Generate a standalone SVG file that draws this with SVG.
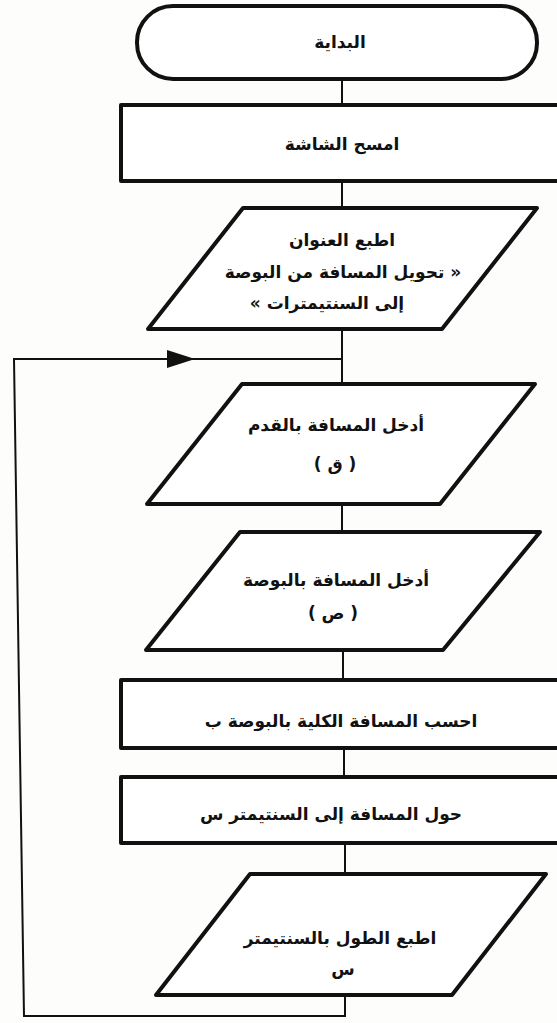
<svg xmlns="http://www.w3.org/2000/svg" width="557" height="1023" viewBox="0 0 557 1023">
<defs>
<style>
.shape{fill:#ffffff;stroke:#111111;stroke-width:4;stroke-linejoin:round}
.conn{fill:none;stroke:#111111;stroke-width:2}
.t{font-family:"DejaVu Sans","Noto Sans",sans-serif;font-size:17px;font-weight:bold;fill:#111111;text-anchor:middle;direction:rtl}
</style>
</defs>
<rect x="0" y="0" width="557" height="1023" fill="#fdfdfb"/>
<g id="connectors">
<line class="conn" x1="342" y1="79" x2="342" y2="105"/>
<line class="conn" x1="342" y1="181" x2="342" y2="208"/>
<line class="conn" x1="342" y1="329" x2="342" y2="384"/>
<line class="conn" x1="342" y1="504" x2="342" y2="532"/>
<line class="conn" x1="343" y1="650" x2="343" y2="680"/>
<line class="conn" x1="344" y1="748" x2="344" y2="777"/>
<line class="conn" x1="345" y1="843" x2="345" y2="874"/>
<polyline class="conn" points="345,995 345,1016 24,1016 14,359 342,359"/>
<polygon points="195,359 167,350 167,368" fill="#111111"/>
</g>
<g id="start">
<rect class="shape" x="137" y="6" width="400" height="73" rx="36" ry="36"/>
<text class="t" x="340" y="48">البداية</text>
</g>
<g id="clear">
<rect class="shape" x="121" y="105" width="440" height="76"/>
<text class="t" x="342" y="150">امسح الشاشة</text>
</g>
<g id="title">
<polygon class="shape" points="243,208 537,208 442,329 148,329"/>
<text class="t" x="342" y="246">اطبع العنوان</text>
<text class="t" x="343" y="278">« تحويل المسافة من البوصة</text>
<text class="t" x="327" y="309">إلى السنتيمترات »</text>
</g>
<g id="inputFeet">
<polygon class="shape" points="242,384 535,384 440,504 147,504"/>
<text class="t" x="336" y="431">أدخل المسافة بالقدم</text>
<text class="t" x="335" y="470">( ق )</text>
</g>
<g id="inputInch">
<polygon class="shape" points="240,532 540,532 443,650 146,650"/>
<text class="t" x="336" y="586">أدخل المسافة بالبوصة</text>
<text class="t" x="333" y="619">( ص )</text>
</g>
<g id="total">
<rect class="shape" x="121" y="680" width="440" height="68"/>
<text class="t" x="341" y="727">احسب المسافة الكلية بالبوصة ب</text>
</g>
<g id="convert">
<rect class="shape" x="121" y="777" width="440" height="66"/>
<text class="t" x="331" y="820">حول المسافة إلى السنتيمتر س</text>
</g>
<g id="print">
<polygon class="shape" points="250,874 546,874 452,995 156,995"/>
<text class="t" x="340" y="944">اطبع الطول بالسنتيمتر</text>
<text class="t" x="343" y="975">س</text>
</g>
</svg>
